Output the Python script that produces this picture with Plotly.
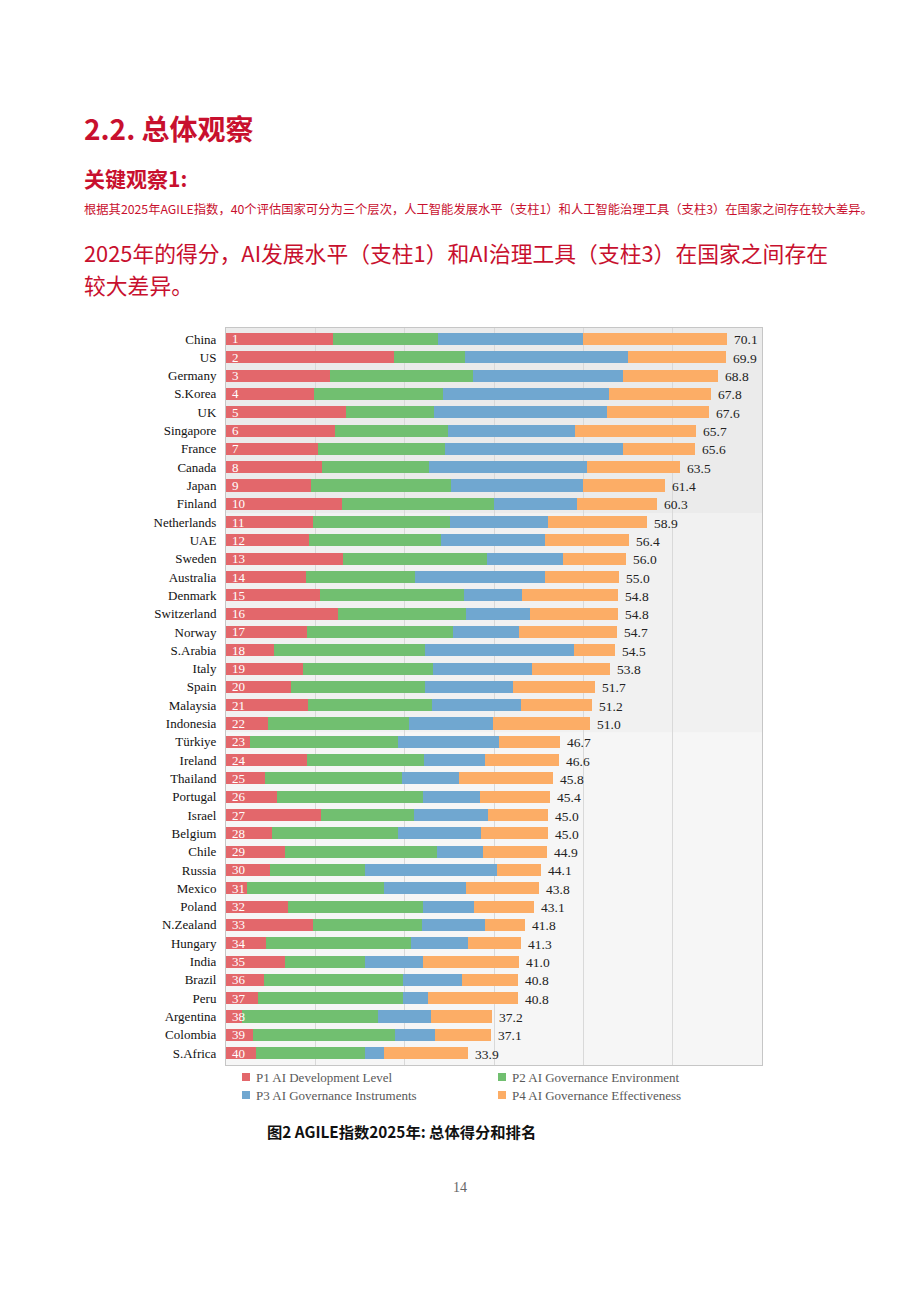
import plotly.graph_objects as go

countries = ["China", "US", "Germany", "S.Korea", "UK", "Singapore", "France", "Canada", "Japan", "Finland",
             "Netherlands", "UAE", "Sweden", "Australia", "Denmark", "Switzerland", "Norway", "S.Arabia", "Italy", "Spain",
             "Malaysia", "Indonesia", "Türkiye", "Ireland", "Thailand", "Portugal", "Israel", "Belgium", "Chile", "Russia",
             "Mexico", "Poland", "N.Zealand", "Hungary", "India", "Brazil", "Peru", "Argentina", "Colombia", "S.Africa"]
ranks = list(range(1, 41))
totals = [70.1, 69.9, 68.8, 67.8, 67.6, 65.7, 65.6, 63.5, 61.4, 60.3,
          58.9, 56.4, 56.0, 55.0, 54.8, 54.8, 54.7, 54.5, 53.8, 51.7,
          51.2, 51.0, 46.7, 46.6, 45.8, 45.4, 45.0, 45.0, 44.9, 44.1,
          43.8, 43.1, 41.8, 41.3, 41.0, 40.8, 40.8, 37.2, 37.1, 33.9]
p1 = [15.0, 23.5, 14.5, 12.3, 16.8, 15.3, 12.9, 13.4, 11.9, 16.3,
      12.2, 11.6, 16.4, 11.2, 13.2, 15.7, 11.3, 6.7, 10.8, 9.1,
      11.5, 5.9, 3.4, 11.4, 5.5, 7.1, 13.3, 6.5, 8.3, 6.1,
      2.9, 8.7, 12.2, 5.6, 8.3, 5.3, 4.5, 2.3, 3.8, 4.2]
p2 = [14.6, 10.0, 20.0, 18.1, 12.3, 15.8, 17.7, 15.0, 19.6, 21.2,
      19.2, 18.5, 20.1, 15.2, 20.1, 17.9, 20.4, 21.1, 18.2, 18.7,
      17.3, 19.7, 20.7, 16.3, 19.1, 20.4, 13.0, 17.6, 21.2, 13.3,
      19.2, 18.9, 15.2, 20.3, 11.1, 19.4, 20.3, 19.0, 19.9, 15.2]
p3 = [20.4, 22.7, 21.1, 23.2, 24.2, 17.7, 24.9, 22.1, 18.4, 11.6,
      13.7, 14.5, 10.7, 18.3, 8.1, 9.0, 9.3, 20.9, 13.8, 12.3,
      12.5, 11.7, 14.1, 8.6, 8.0, 8.1, 10.4, 11.6, 6.4, 18.5,
      11.5, 7.1, 8.9, 8.0, 8.1, 8.3, 3.5, 7.4, 5.6, 2.7]
p4 = [20.1, 13.7, 13.2, 14.2, 14.3, 16.9, 10.1, 13.0, 11.5, 11.2,
      13.8, 11.8, 8.8, 10.3, 13.4, 12.2, 13.7, 5.8, 11.0, 11.6,
      9.9, 13.7, 8.5, 10.3, 13.2, 9.8, 8.3, 9.3, 9.0, 6.2,
      10.2, 8.4, 5.5, 7.4, 13.5, 7.8, 12.5, 8.5, 7.8, 11.8]
series_names = ["P1 AI Development Level", "P2 AI Governance Environment",
                "P3 AI Governance Instruments", "P4 AI Governance Effectiveness"]
tier_sizes = [10, 12, 18]

colors = ["#e3676b", "#71bf70", "#70a7d0", "#fcad66"]
band_colors = ["#ebebeb", "#f1f1f1", "#f6f6f6"]
RED = "#c8102e"
SERIF = "Liberation Serif, Times New Roman, serif"
CJK = "Noto Sans CJK SC, Noto Sans, sans-serif"

W, H = 920, 1302
def px(x): return x / W
def py(y): return 1 - y / H

fig = go.Figure()
for name, vals, col in zip(series_names, [p1, p2, p3, p4], colors):
    fig.add_trace(go.Bar(y=countries, x=vals, name=name, orientation="h",
                         marker=dict(color=col, line=dict(width=0)), width=0.66,
                         hoverinfo="x+name"))

shapes = []
start = -0.6
acc = 0
for i, (n, bc) in enumerate(zip(tier_sizes, band_colors)):
    acc += n
    end = acc - 0.5 if i < len(tier_sizes) - 1 else 39.65
    shapes.append(dict(type="rect", xref="x domain", yref="y", x0=0, x1=1, y0=start, y1=end,
                       fillcolor=bc, line=dict(width=0), layer="below"))
    start = end

annotations = []
for c, r in zip(countries, ranks):
    annotations.append(dict(x=0, y=c, xref="x", yref="y", text=str(r), showarrow=False,
                            xanchor="left", xshift=4, font=dict(family=SERIF, size=13, color="white")))
for c, t in zip(countries, totals):
    annotations.append(dict(x=t, y=c, xref="x", yref="y", text=f"{t:.1f}", showarrow=False,
                            xanchor="left", xshift=5, yshift=-1, font=dict(family=SERIF, size=13.5, color="#222222")))

# legend (manual)
leg_pos = [(242, 1077), (498, 1077), (242, 1095), (498, 1095)]
for (lx, ly), name, col in zip(leg_pos, series_names, colors):
    shapes.append(dict(type="rect", xref="paper", yref="paper", x0=px(lx), x1=px(lx + 8),
                       y0=py(ly + 4), y1=py(ly - 4), fillcolor=col, line=dict(width=0)))
    annotations.append(dict(x=px(lx + 12), y=py(ly), xref="paper", yref="paper", text=name,
                            showarrow=False, xanchor="left", yanchor="middle",
                            font=dict(family=SERIF, size=13, color="#595959")))

# page texts
annotations += [
    dict(x=px(82), y=py(128), text="<b>2.2. 总体观察</b>", font=dict(family=CJK, size=28, color=RED)),
    dict(x=px(82), y=py(178), text="<b>关键观察1:</b>", font=dict(family=CJK, size=21, color=RED)),
    dict(x=px(82), y=py(209), text="根据其2025年AGILE指数，40个评估国家可分为三个层次，人工智能发展水平（支柱1）和人工智能治理工具（支柱3）在国家之间存在较大差异。",
         font=dict(family=CJK, size=12.3, color=RED)),
    dict(x=px(82), y=py(252), text="2025年的得分，AI发展水平（支柱1）和AI治理工具（支柱3）在国家之间存在",
         font=dict(family=CJK, size=21.8, color=RED)),
    dict(x=px(82), y=py(284), text="较大差异。", font=dict(family=CJK, size=21.8, color=RED)),
    dict(x=px(265), y=py(1131), text="<b>图2 AGILE指数2025年: 总体得分和排名</b>",
         font=dict(family=CJK, size=15.3, color="#111111")),
    dict(x=px(460), y=py(1187), text="14", xanchor="center", font=dict(family=SERIF, size=14, color="#666666")),
]
for a in annotations[-7:]:
    a.setdefault("xref", "paper"); a.setdefault("yref", "paper")
    a.setdefault("showarrow", False); a.setdefault("xanchor", "left"); a.setdefault("yanchor", "middle")

fig.update_layout(
    width=W, height=H, margin=dict(l=0, r=0, t=0, b=0),
    paper_bgcolor="white", plot_bgcolor="white",
    barmode="stack", bargap=0.34, showlegend=False,
    shapes=shapes, annotations=annotations,
    xaxis=dict(domain=[px(226), px(762)], range=[0, 75], dtick=12.5, showticklabels=False,
               showgrid=True, gridcolor="#d9d9d9", gridwidth=1, zeroline=False,
               showline=True, linecolor="#c6c6c6", linewidth=1, mirror=True, fixedrange=True),
    yaxis=dict(domain=[py(1065), py(328)], range=[39.65, -0.6], type="category",
               showgrid=False, ticks="", ticklabelstandoff=6,
               tickfont=dict(family=SERIF, size=13, color="#111111"),
               showline=True, linecolor="#c6c6c6", linewidth=1, mirror=True, fixedrange=True),
)
fig.write_html("out.html")
